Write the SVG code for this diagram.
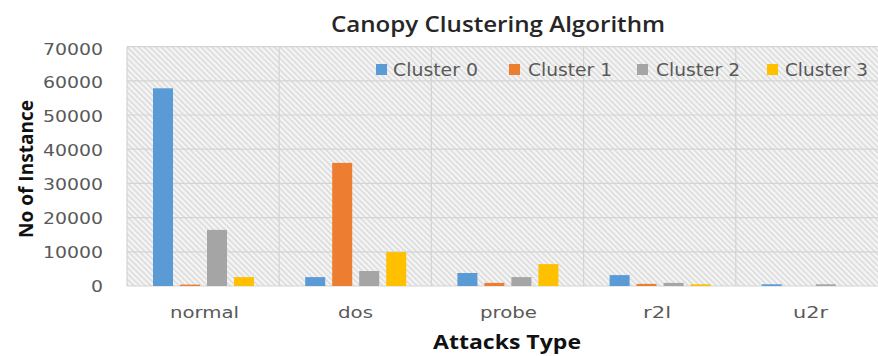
<svg xmlns="http://www.w3.org/2000/svg" width="878" height="356" viewBox="0 0 878 356">
<defs>
<pattern id="hatch" width="4" height="4" patternUnits="userSpaceOnUse" patternTransform="rotate(-45)">
<rect width="4" height="4" fill="#f4f4f4"/>
<rect width="1.3" height="4" fill="#d6d6d6"/>
</pattern>
</defs>
<style>
.grid{stroke:#d4d4d4;stroke-width:1.2;fill:none}
.tick{font-family:"DejaVu Sans",Verdana,sans-serif;font-size:16px;fill:#595959;text-anchor:end}
.cat{font-family:"DejaVu Sans",Verdana,sans-serif;font-size:16px;fill:#595959;text-anchor:middle}
.leg{font-family:"DejaVu Sans",Verdana,sans-serif;font-size:17px;fill:#595959}
.ttl{font-family:"Open Sans","Liberation Sans",sans-serif;font-weight:600;fill:#262626}
.axt{font-family:"Open Sans","Liberation Sans",sans-serif;font-weight:700;fill:#111;font-size:19px;text-anchor:middle}
.c0{fill:#5b9bd5}.c1{fill:#ed7d31}.c2{fill:#a5a5a5}.c3{fill:#ffc000}
</style>
<rect width="878" height="356" fill="#ffffff"/>
<text class="ttl" x="498" y="32" font-size="21" text-anchor="middle" textLength="334" lengthAdjust="spacingAndGlyphs">Canopy Clustering Algorithm</text>
<g id="plot-area">
<rect x="127" y="46.6" width="751" height="239.4" fill="url(#hatch)"/>
<g class="grid">
<line x1="127" y1="46.6" x2="878" y2="46.6"/>
<line x1="127" y1="80.8" x2="878" y2="80.8"/>
<line x1="127" y1="115" x2="878" y2="115"/>
<line x1="127" y1="149.2" x2="878" y2="149.2"/>
<line x1="127" y1="183.4" x2="878" y2="183.4"/>
<line x1="127" y1="217.6" x2="878" y2="217.6"/>
<line x1="127" y1="251.8" x2="878" y2="251.8"/>
<line x1="127" y1="286" x2="878" y2="286"/>
<line x1="127" y1="46.6" x2="127" y2="286"/>
<line x1="279.2" y1="46.6" x2="279.2" y2="286"/>
<line x1="431.4" y1="46.6" x2="431.4" y2="286"/>
<line x1="583.6" y1="46.6" x2="583.6" y2="286"/>
<line x1="735.8" y1="46.6" x2="735.8" y2="286"/>
</g>
</g>
<g id="y-axis">
<text class="tick" x="103" y="55" textLength="60" lengthAdjust="spacingAndGlyphs">70000</text>
<text class="tick" x="103" y="88" textLength="60" lengthAdjust="spacingAndGlyphs">60000</text>
<text class="tick" x="103" y="122" textLength="60" lengthAdjust="spacingAndGlyphs">50000</text>
<text class="tick" x="103" y="156" textLength="60" lengthAdjust="spacingAndGlyphs">40000</text>
<text class="tick" x="103" y="190" textLength="60" lengthAdjust="spacingAndGlyphs">30000</text>
<text class="tick" x="103" y="224" textLength="60" lengthAdjust="spacingAndGlyphs">20000</text>
<text class="tick" x="103" y="258" textLength="60" lengthAdjust="spacingAndGlyphs">10000</text>
<text class="tick" x="103" y="292" textLength="12" lengthAdjust="spacingAndGlyphs">0</text>
<text class="axt" transform="translate(33,169) rotate(-90)" textLength="138" lengthAdjust="spacingAndGlyphs">No of Instance</text>
</g>
<g id="x-axis">
<text class="cat" x="204.5" y="318" textLength="69" lengthAdjust="spacingAndGlyphs">normal</text>
<text class="cat" x="355.5" y="318" textLength="35" lengthAdjust="spacingAndGlyphs">dos</text>
<text class="cat" x="508.5" y="318" textLength="57" lengthAdjust="spacingAndGlyphs">probe</text>
<text class="cat" x="657" y="318" textLength="28" lengthAdjust="spacingAndGlyphs">r2l</text>
<text class="cat" x="810.5" y="318" textLength="35" lengthAdjust="spacingAndGlyphs">u2r</text>
<text class="axt" x="507" y="349" textLength="148" lengthAdjust="spacingAndGlyphs">Attacks Type</text>
</g>
<g id="bars-normal">
<rect class="c0" x="153" y="88.3" width="20" height="197.7"/>
<rect class="c1" x="180" y="284.6" width="20" height="1.4"/>
<rect class="c2" x="207" y="229.9" width="20" height="56.1"/>
<rect class="c3" x="234" y="277.1" width="20" height="8.9"/>
</g>
<g id="bars-dos">
<rect class="c0" x="305.2" y="277.1" width="20" height="8.9"/>
<rect class="c1" x="332.2" y="162.9" width="20" height="123.1"/>
<rect class="c2" x="359.2" y="271" width="20" height="15"/>
<rect class="c3" x="386.2" y="252.1" width="20" height="33.9"/>
</g>
<g id="bars-probe">
<rect class="c0" x="457.4" y="273" width="20" height="13"/>
<rect class="c1" x="484.4" y="282.9" width="20" height="3.1"/>
<rect class="c2" x="511.4" y="277.1" width="20" height="8.9"/>
<rect class="c3" x="538.4" y="264.1" width="20" height="21.9"/>
</g>
<g id="bars-r2l">
<rect class="c0" x="609.6" y="275.1" width="20" height="10.9"/>
<rect class="c1" x="636.6" y="283.9" width="20" height="2.1"/>
<rect class="c2" x="663.6" y="282.9" width="20" height="3.1"/>
<rect class="c3" x="690.6" y="284.3" width="20" height="1.7"/>
</g>
<g id="bars-u2r">
<rect class="c0" x="761.8" y="284.3" width="20" height="1.7"/>
<rect class="c2" x="815.8" y="284.3" width="20" height="1.7"/>
</g>
<g id="legend">
<rect class="c0" x="376" y="64" width="11" height="11"/>
<text class="leg" x="393" y="75.5" textLength="85" lengthAdjust="spacingAndGlyphs">Cluster 0</text>
<rect class="c1" x="509" y="64" width="11" height="11"/>
<text class="leg" x="528" y="75.5" textLength="84" lengthAdjust="spacingAndGlyphs">Cluster 1</text>
<rect class="c2" x="637" y="64" width="11" height="11"/>
<text class="leg" x="656" y="75.5" textLength="84" lengthAdjust="spacingAndGlyphs">Cluster 2</text>
<rect class="c3" x="767" y="64" width="11" height="11"/>
<text class="leg" x="785" y="75.5" textLength="83" lengthAdjust="spacingAndGlyphs">Cluster 3</text>
</g>
</svg>
